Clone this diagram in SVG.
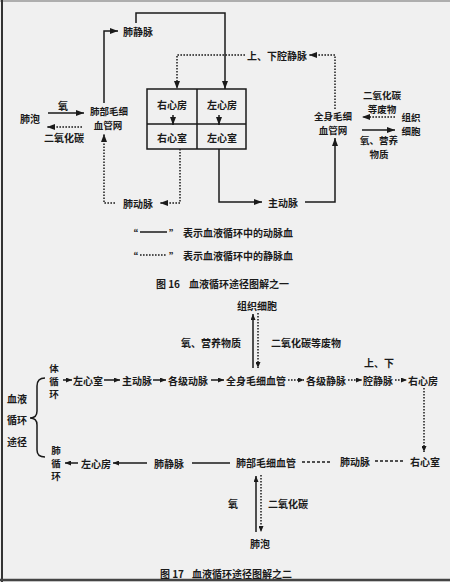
<svg xmlns="http://www.w3.org/2000/svg" width="450" height="582" viewBox="0 0 450 582">
<defs>
<style>
text{font-family:"Noto Sans CJK SC","Noto Sans CJK JP",sans-serif;font-size:10px;font-weight:bold;fill:#1a1a1a;text-anchor:middle;dominant-baseline:central}
.cap{font-size:10px}
.v{font-size:9.5px}
.s{fill:none;stroke:#1a1a1a;stroke-width:1.5}
.d{fill:none;stroke:#1a1a1a;stroke-width:1.5;stroke-dasharray:1.6 1.4}
.dl{fill:none;stroke:#1a1a1a;stroke-width:1.4;stroke-dasharray:3 2}
.box{fill:none;stroke:#1a1a1a;stroke-width:1.5}
</style>
<marker id="ah" markerUnits="userSpaceOnUse" markerWidth="8" markerHeight="6" refX="8" refY="3" orient="auto">
<path d="M0,0 L8,3 L0,6 z" fill="#1a1a1a"/>
</marker>
<marker id="as" markerUnits="userSpaceOnUse" markerWidth="6" markerHeight="5" refX="6" refY="2.5" orient="auto">
<path d="M0,0 L6,2.5 L0,5 z" fill="#1a1a1a"/>
</marker>
</defs>
<rect x="0" y="0" width="450" height="582" fill="#f0f0f0"/>
<line x1="0" y1="1" x2="450" y2="1" stroke="#999" stroke-width="1.5"/>
<line x1="2" y1="0" x2="2" y2="582" stroke="#333" stroke-width="2"/>
<line x1="0" y1="580" x2="450" y2="580" stroke="#444" stroke-width="2.5"/>

<!-- Figure 16 -->
<g id="fig16-connectors">
<path class="s" d="M48,113 L84,113" marker-end="url(#ah)"/>
<path class="d" d="M82,127 L47,127" marker-end="url(#ah)"/>
<path class="s" d="M104,103 L104,31 L118,31" marker-end="url(#ah)"/>
<path class="s" d="M136,23 L136,13 L225,13 L225,89" marker-end="url(#ah)"/>
<path class="d" d="M245,55 L177,55 L177,89" marker-end="url(#ah)"/>
<path class="d" d="M335,109 L335,55 L309,55" marker-end="url(#ah)"/>
<path class="s" d="M173,115 L173,125" marker-end="url(#ah)"/>
<path class="s" d="M219,115 L219,125" marker-end="url(#ah)"/>
<path class="d" d="M180,149 L180,203 L160,203" marker-end="url(#ah)"/>
<path class="d" d="M115,203 L104,203 L104,134" marker-end="url(#ah)"/>
<path class="s" d="M219,149 L219,202 L262,202" marker-end="url(#ah)"/>
<path class="s" d="M305,202 L335,202 L335,138" marker-end="url(#ah)"/>
<path class="d" d="M395,117 L362,117" marker-end="url(#ah)"/>
<path class="s" d="M362,130 L395,130" marker-end="url(#ah)"/>
</g>
<g id="alveolus16"><text x="30" y="118">肺泡</text></g>
<g id="o2-16"><text x="63" y="105">氧</text></g>
<g id="co2-16"><text x="64" y="137">二氧化碳</text></g>
<g id="pulm-cap16"><text class="v" x="109" y="111">肺部毛细</text><text class="v" x="108" y="125">血管网</text></g>
<g id="pulm-vein16"><text x="138" y="31">肺静脉</text></g>
<g id="pulm-art16"><text x="138" y="203">肺动脉</text></g>
<g id="heart">
<rect class="box" x="147" y="89" width="99" height="60"/>
<line class="box" x1="197" y1="89" x2="197" y2="149"/>
<line class="box" x1="147" y1="124" x2="246" y2="124"/>
<text x="172" y="104">右心房</text>
<text x="222" y="104">左心房</text>
<text x="172" y="137">右心室</text>
<text x="222" y="137">左心室</text>
</g>
<g id="vena16"><text x="277" y="55">上、下腔静脉</text></g>
<g id="sys-cap16"><text class="v" x="333" y="116">全身毛细</text><text class="v" x="333" y="130">血管网</text></g>
<g id="waste16"><text class="v" x="382" y="95">二氧化碳</text><text class="v" x="382" y="109">等废物</text></g>
<g id="tissue16"><text class="v" x="411" y="117">组织</text><text class="v" x="411" y="131">细胞</text></g>
<g id="nutr16"><text class="v" x="379" y="140">氧、营养</text><text class="v" x="379" y="154">物质</text></g>
<g id="aorta16"><text x="283" y="202">主动脉</text></g>
<g id="legend">
<text x="133" y="233">“</text>
<line class="s" x1="140" y1="232" x2="167" y2="232"/>
<text x="174" y="233">”</text>
<text x="238" y="232">表示血液循环中的动脉血</text>
<text x="133" y="256">“</text>
<line class="d" x1="140" y1="255" x2="167" y2="255"/>
<text x="174" y="256">”</text>
<text x="238" y="255">表示血液循环中的静脉血</text>
</g>
<g id="caption16"><text class="cap" x="168" y="283">图 16</text><text class="cap" x="239" y="283">血液循环途径图解之一</text></g>

<!-- Figure 17 -->
<g id="fig17-connectors">
<path class="s" d="M253,368 L253,314" marker-end="url(#as)"/>
<path class="d" d="M258,313 L258,368" marker-end="url(#as)"/>
<path class="s" d="M37,386 Q37,378 45,378 M37,386 L37,411 Q37,418 30,418 Q37,418 37,425 L37,450 Q37,457 45,457"/>
<path class="s" d="M63,380 L72,380" marker-end="url(#as)"/>
<path class="s" d="M104,380 L120,380" marker-end="url(#as)"/>
<path class="s" d="M153,380 L166,380" marker-end="url(#as)"/>
<path class="s" d="M211,380 L224,380" marker-end="url(#as)"/>
<path class="d" d="M288,380 L304,380" marker-end="url(#as)"/>
<path class="d" d="M348,380 L362,380" marker-end="url(#as)"/>
<path class="d" d="M395,380 L407,380" marker-end="url(#as)"/>
<path class="d" d="M424,388 L424,452" marker-end="url(#as)"/>
<path class="dl" d="M403,461 L375,461"/>
<path class="dl" d="M330,462 L302,462"/>
<path class="s" d="M230,463 L192,463"/>
<path class="s" d="M147,463 L113,463" marker-end="url(#as)"/>
<path class="s" d="M78,463 L65,463" marker-end="url(#as)"/>
<path class="s" d="M256,532 L256,476" marker-end="url(#as)"/>
<path class="d" d="M261,475 L261,532" marker-end="url(#as)"/>
</g>
<g id="tissue17"><text x="257" y="305">组织细胞</text></g>
<g id="nutr17"><text x="211" y="342">氧、营养物质</text></g>
<g id="waste17"><text x="306" y="342">二氧化碳等废物</text></g>
<g id="title17"><text x="17" y="398">血液</text><text x="17" y="419">循环</text><text x="17" y="441">途径</text></g>
<g id="systemic"><text class="v" x="54" y="368">体</text><text class="v" x="54" y="381">循</text><text class="v" x="54" y="394">环</text></g>
<g id="lv17"><text x="88" y="380">左心室</text></g>
<g id="aorta17"><text x="137" y="380">主动脉</text></g>
<g id="arteries17"><text x="188" y="380">各级动脉</text></g>
<g id="syscap17"><text x="256" y="380">全身毛细血管</text></g>
<g id="veins17"><text x="326" y="380">各级静脉</text></g>
<g id="vena17"><text x="379" y="362">上、下</text><text x="378" y="380">腔静脉</text></g>
<g id="ra17"><text x="423" y="380">右心房</text></g>
<g id="rv17"><text x="425" y="461">右心室</text></g>
<g id="pa17"><text x="355" y="461">肺动脉</text></g>
<g id="pulmcap17"><text x="266" y="462">肺部毛细血管</text></g>
<g id="pv17"><text x="169" y="463">肺静脉</text></g>
<g id="la17"><text x="96" y="463">左心房</text></g>
<g id="pulmonary"><text class="v" x="56" y="450">肺</text><text class="v" x="56" y="463">循</text><text class="v" x="56" y="476">环</text></g>
<g id="o2-17"><text x="233" y="503">氧</text></g>
<g id="co2-17"><text x="288" y="503">二氧化碳</text></g>
<g id="alveolus17"><text x="260" y="543">肺泡</text></g>
<g id="caption17"><text class="cap" x="172" y="573">图 17</text><text class="cap" x="242" y="573">血液循环途径图解之二</text></g>
</svg>
